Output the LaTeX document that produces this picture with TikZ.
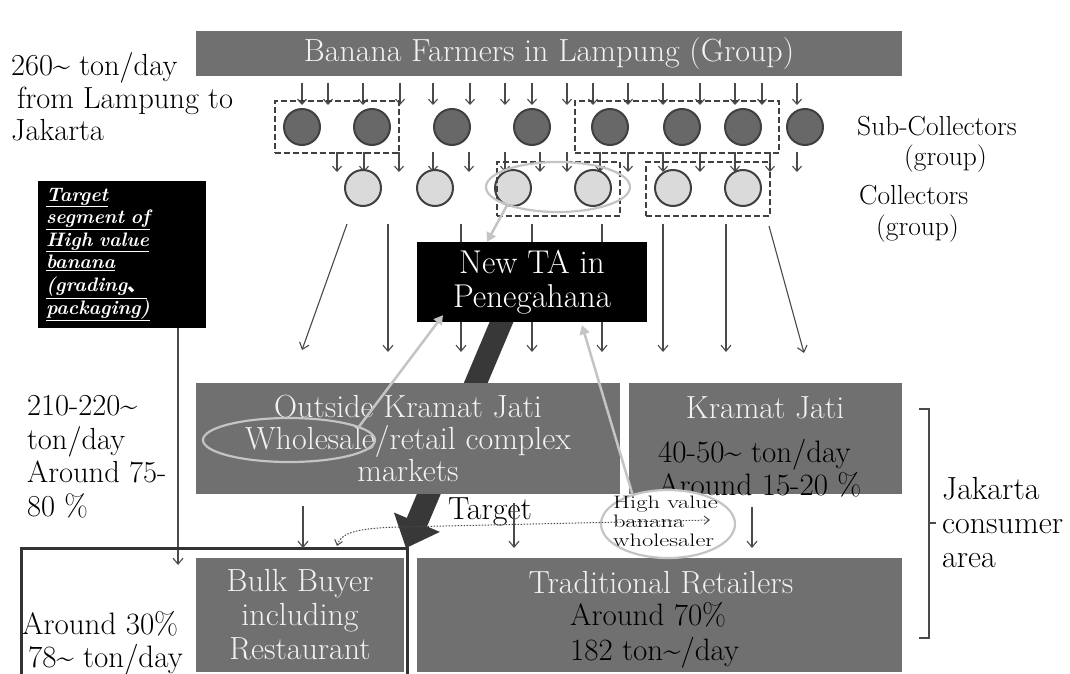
\documentclass[tikz,border=0pt]{standalone}
\usepackage{fontspec}
\usepackage{graphicx}
\newfontfamily\cjk{Noto Sans CJK SC}
\usetikzlibrary{arrows.meta,shapes.geometric}
\definecolor{boxgray}{HTML}{707070}
\definecolor{lightfg}{HTML}{F2F2F2}
\definecolor{linegray}{HTML}{4A4A4A}
\definecolor{hilite}{HTML}{C4C4C4}
\definecolor{subfill}{HTML}{686868}
\definecolor{colfill}{HTML}{DADADA}
\definecolor{ringgray}{HTML}{404040}
\definecolor{darkarrow}{HTML}{383838}
\definecolor{framegray}{HTML}{333333}
\newcommand{\tld}{\textasciitilde}
\newcommand{\whitefont}{\fontsize{32}{33.5}\selectfont}
\newcommand{\blackfont}{\fontsize{31}{33.5}\selectfont}
\newcommand{\labfont}{\fontsize{27.5}{33}\selectfont}
\newcommand{\hvs}[1]{\scalebox{1.36}[1]{#1}}
\begin{document}
\begin{tikzpicture}[x=1pt,y=-1pt,
  txt/.style={font=\blackfont, inner sep=0pt, align=left, text=black},
  lab/.style={font=\labfont, inner sep=0pt, align=left, text=black},
  graybox/.style={fill=boxgray, draw=none, inner sep=0pt, text=lightfg, font=\whitefont, align=center},
  graytext/.style={text=lightfg, font=\whitefont, inner sep=0pt},
  subc/.style={circle, fill=subfill, draw=ringgray, line width=2pt, minimum size=36pt, inner sep=0pt},
  colc/.style={circle, fill=colfill, draw=ringgray, line width=2pt, minimum size=36pt, inner sep=0pt},
  grp/.style={draw=ringgray, dash pattern=on 6pt off 3pt, line width=1.8pt, inner sep=0pt},
  sarr/.style={draw=linegray, line width=1.1pt, -{Straight Barb[length=5pt,width=9pt]}},
  larr/.style={draw=linegray, line width=1.1pt, -{Straight Barb[length=6pt,width=10pt]}},
  hl/.style={draw=hilite, line width=2.2pt, inner sep=0pt},
  hlarr/.style={draw=hilite, line width=2.5pt, -{Triangle[length=9pt,width=10pt]}},
  dotarr/.style={draw=linegray, line width=1pt, dash pattern=on 1.5pt off 1.5pt,
     {Straight Barb[length=5pt,width=8pt]}-{Straight Barb[length=5pt,width=8pt]}},
]
\useasboundingbox (0,0) rectangle (1070,674);
\fill[white] (0,0) rectangle (1070,674);

% small arrows banner -> sub-collectors
\foreach \x in {302,328,363,400,433,470,505,532,567,593,628,663,700,735,762,797}
  \draw[sarr] (\x,83) -- (\x,105);
% small arrows sub-collectors -> collectors
\foreach \x in {337,364,399,433,469,505,540,567,600,628,663,700,735,770,797}
  \draw[sarr] (\x,152) -- (\x,172);

% long arrows collectors -> markets
\foreach \x [count=\i] in {388,461,532,602,663,726} {
  \coordinate (la\i) at (\x,224);
  \coordinate (lb\i) at (\x,352);
  \draw[larr] (la\i) -- (lb\i);
}
\coordinate (da1) at (347,224); \coordinate (db1) at (302,350);
\coordinate (da2) at (769,226); \coordinate (db2) at (804,353);
\draw[larr] (da1) -- (db1);
\draw[larr] (da2) -- (db2);

% big dark arrow
\fill[darkarrow] (493.1,313.7) -- (513.3,322.3) -- (427.0,526.5) -- (439.9,531.9)
  -- (406,548) -- (393.9,512.5) -- (406.8,517.9) -- cycle;

% banner
\node[graybox, minimum width=706pt, minimum height=45pt] (banner) at (549,53.5)
  {Banana Farmers in Lampung (Group)};

% circles
\foreach \x [count=\i] in {302,372,452,532,610,682,743,805}
  \node[subc] (s\i) at (\x,127) {};
\foreach \x [count=\i] in {363,435,513,593,673,743}
  \node[colc] (c\i) at (\x,188) {};

% dashed groups
\node[grp, minimum width=124pt, minimum height=52pt] (gA) at (337,127) {};
\node[grp, minimum width=204pt, minimum height=52pt] (gB) at (677,127) {};
\node[grp, minimum width=123pt, minimum height=54pt] (gC) at (558.5,189) {};
\node[grp, minimum width=124pt, minimum height=54pt] (gD) at (708,189) {};

% highlight ellipse around collectors
\node[ellipse, hl, minimum width=144pt, minimum height=50pt] (colell) at (558,187) {};

% New TA
\node[fill=black, minimum width=230pt, minimum height=80pt, inner sep=0pt,
  text=white, font=\fontsize{33}{34}\selectfont, align=center] (newta) at (532,282) {New TA in\\Penegahana};

% target segment box
\node[fill=black, minimum width=168pt, minimum height=147pt, inner sep=0pt,
  text width=152pt, align=left, text=white,
  font=\fontsize{19.5}{22.6}\selectfont\bfseries\itshape] (tgt) at (122,254.5)
  {\underline{Target}\\\underline{segment of}\\\underline{High value}\\\underline{banana}\\\underline{(grading{\cjk 、}}\\\underline{packaging)}};
\coordinate (tgtend) at (178,565);
\draw[larr] (tgt.south -| tgtend) -- (tgtend);

% left texts
\node[txt, anchor=west, font=\fontsize{30.5}{32.5}\selectfont] (vol) at (11,97) {260\tld\ ton/day\\\hspace*{6pt}from Lampung to\\Jakarta};
\node[txt, anchor=west, font=\fontsize{30.5}{33.5}\selectfont] (share) at (27,457) {210-220\tld\\ton/day\\Around 75-\\80 \%};

% markets
\node[graybox, minimum width=424pt, minimum height=111pt, font=\fontsize{32}{32}\selectfont] (outside) at (408,438.5)
  {Outside Kramat Jati\\Wholesale/retail complex\\markets};
\node[graybox, minimum width=273pt, minimum height=111pt] (kramat) at (765.5,438.5) {};
\node[graytext] (kramatt) at (765,408) {Kramat Jati};
\node[txt, anchor=west] (kvol) at (658,468) {40-50\tld\ ton/day\\Around 15-20 \%};

\node[graybox, minimum width=208pt, minimum height=114pt, font=\fontsize{32}{34}\selectfont] (bulk) at (300,615)
  {Bulk Buyer\\including\\Restaurant};
\node[graybox, minimum width=485pt, minimum height=114pt] (trad) at (659.5,615) {};
\node[graytext] (tradt) at (661,583) {Traditional Retailers};
\node[txt, anchor=west, font=\fontsize{31}{34.5}\selectfont] (tradv) at (570,635) {Around 70\%\\182 ton\tld/day};

% wholesale ellipse
\node[ellipse, hl, minimum width=172pt, minimum height=44pt] (whell) at (289,440) {};

% high value wholesaler ellipse
\node[ellipse, hl, fill=white, minimum width=134pt, minimum height=68pt] (hvell) at (668,524) {};
\node[font=\fontsize{18}{19}\selectfont, align=left, anchor=west, inner sep=0pt] (hvt) at (613,521)
  {\hvs{High value}\\\hvs{banana}\\\hvs{wholesaler}};

% bulk frame
\draw[framegray, line width=3pt] (21,690) -- (21,548) -- (407,548) -- (407,690);
\node[txt, anchor=west] (bulkshare) at (22,643) {Around 30\%\\\hspace*{6pt}78\tld\ ton/day};

% Target label and arrows below markets
\node[txt, font=\fontsize{32}{33}\selectfont] (target) at (490,512) {Target};
\coordinate (ba1) at (303,506); \coordinate (bb1) at (303,548);
\coordinate (ba2) at (514,503); \coordinate (bb2) at (514,548);
\coordinate (ba3) at (752,507); \coordinate (bb3) at (752,548);
\draw[larr] (ba1) -- (bb1);
\draw[larr] (ba2) -- (bb2);
\draw[larr] (ba3) -- (bb3);

% dotted target arrow
\coordinate (dl) at (337,546);
\coordinate (dr) at (710,520);
\draw[dotarr] (dl) .. controls (341,532) and (360,528) .. (400,527) -- (dr);

% light highlight arrows
\draw[hlarr] (colell.200) -- ([xshift=-45pt]newta.north);
\draw[hlarr] (whell.11) -- ([xshift=-89pt,yshift=7pt]newta.south);
\draw[hlarr] (hvell.140) -- ([xshift=50pt,yshift=-3pt]newta.south);

% Jakarta bracket
\draw[linegray, line width=1.3pt] (919,409) -- (929,409) -- (929,638) -- (919,638);
\draw[linegray, line width=1.3pt] (929,523) -- (936,523);
\node[txt, anchor=west, font=\fontsize{32}{34}\selectfont] (jkt) at (942,523) {Jakarta\\consumer\\area};

% right labels
\node[lab, anchor=west] (sublab) at (857,126) {Sub-Collectors};
\node[lab, anchor=west] (subgrp) at (904,159) {(group)};
\node[lab, anchor=west] (collab) at (859,195) {Collectors};
\node[lab, anchor=west] (colgrp) at (876,229) {(group)};
\end{tikzpicture}
\end{document}
